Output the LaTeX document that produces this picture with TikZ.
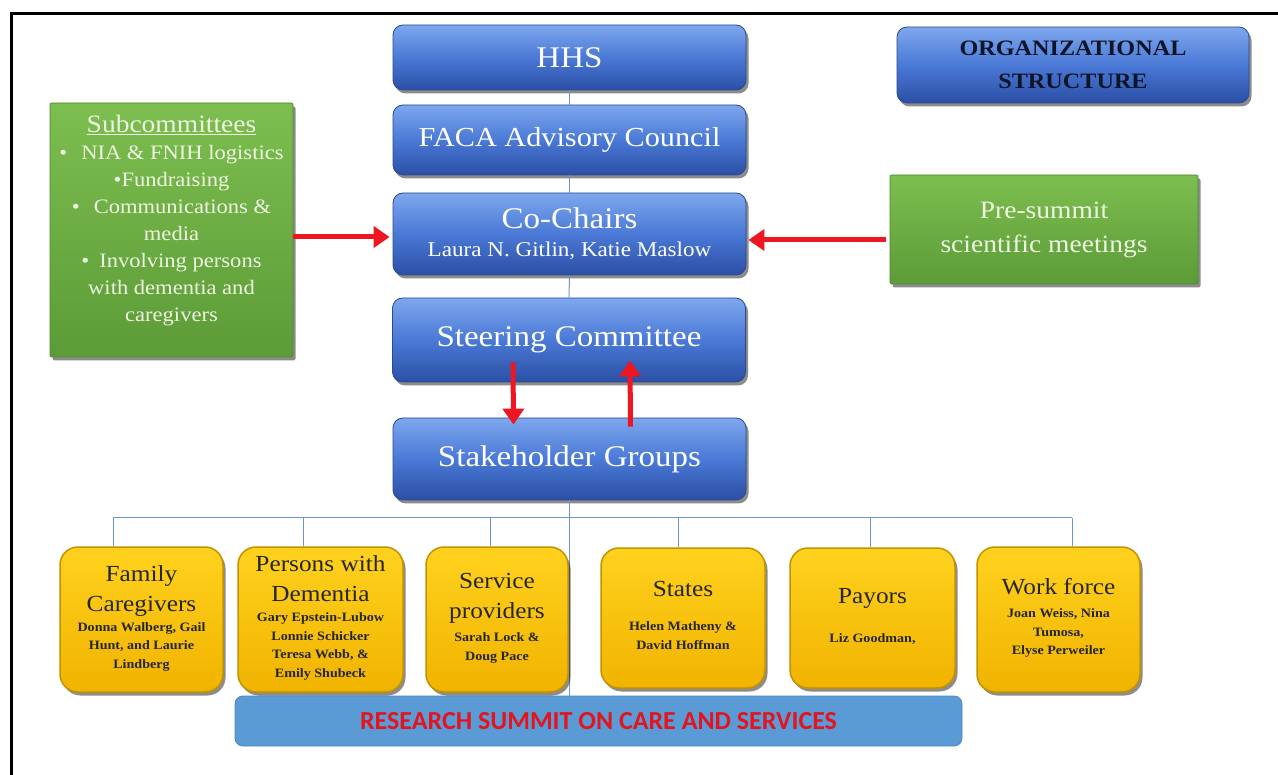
\documentclass[tikz,border=0pt]{standalone}
\usepackage{fontspec}
\setmainfont{Liberation Serif}[FakeStretch=1.1]
\newfontfamily\calib{Carlito}
\usetikzlibrary{shadows,arrows.meta,calc}
\definecolor{bluetop}{HTML}{7EA7EE}
\definecolor{bluemid}{HTML}{4A79D6}
\definecolor{bluebot}{HTML}{2B4FA5}
\definecolor{blueedge}{HTML}{2A4A90}
\definecolor{yeltop}{HTML}{FFD21E}
\definecolor{yelbot}{HTML}{F0B300}
\definecolor{yeledge}{HTML}{C29200}
\definecolor{grntop}{HTML}{7DBE50}
\definecolor{grnbot}{HTML}{5C9B37}
\definecolor{grnedge}{HTML}{4C8A2C}
\definecolor{grntext}{HTML}{EEF7E2}
\definecolor{connc}{HTML}{6E94C8}
\definecolor{arrred}{HTML}{EE1620}
\definecolor{summitfill}{HTML}{5B9BD5}
\definecolor{summitedge}{HTML}{4A86C0}
\definecolor{summittext}{HTML}{E3141E}
\definecolor{orgtext}{HTML}{0E1528}
\newcommand\bluefont{\fontsize{30}{30}\selectfont}
\newcommand\ybigfont{\fontsize{23}{30}\selectfont}
\newcommand\ynamefont{\fontsize{12.8}{18.5}\selectfont\bfseries}
\newcommand\ynames[1]{{\ynamefont\renewcommand\arraystretch{1}\begin{tabular}[t]{@{}c@{}}#1\end{tabular}}}
\tikzset{
  shade/.style={drop shadow={shadow xshift=2.5pt, shadow yshift=-3.5pt, opacity=.45, fill=black}},
  bluebox/.style={shade, rounded corners=10pt, top color=bluetop, bottom color=bluebot, middle color=bluemid,
    draw=blueedge, line width=.8pt, text=white, align=center, inner sep=0pt, minimum width=353pt, font=\bluefont},
  yelbox/.style={shade, rounded corners=18pt, top color=yeltop, bottom color=yelbot, draw=yeledge,
    line width=1.5pt, text=black!85, align=center, inner sep=0pt, font=\ybigfont},
  grnbox/.style={shade, rounded corners=2pt, top color=grntop, bottom color=grnbot, draw=grnedge,
    line width=.8pt, text=grntext, align=center, inner sep=0pt},
  conn/.style={draw=connc, line width=1pt},
  redarrow/.style={draw=arrred, line width=5pt, -{Triangle[length=16pt,width=21pt]}},
}
\begin{document}
\begin{tikzpicture}[x=1pt,y=-1pt]
\useasboundingbox (0,0) rectangle (1278,775);
\fill[white] (0,0) rectangle (1278,775);
\draw[line width=2.5pt] (11.5,775) -- (11.5,13.5) -- (1278,13.5);

% summit bar
\node[rounded corners=8pt, fill=summitfill, draw=summitedge, line width=.8pt, minimum width=727pt, minimum height=50pt,
  inner sep=0pt, font=\calib\bfseries\fontsize{26}{26}\selectfont, text=summittext] (summit) at (598.5,721)
  {RESEARCH SUMMIT ON CARE AND SERVICES};

% blue column
\node[bluebox, minimum height=65pt] (hhs) at (569.5,57.5) {HHS};
\node[bluebox, minimum height=70pt, font=\fontsize{27.5}{30}\selectfont] (faca) at (569.5,140) {FACA Advisory Council};
\node[bluebox, minimum height=82pt] (co) at (569.5,234) {Co-Chairs\\[-2pt]{\fontsize{21}{24}\selectfont Laura N. Gitlin, Katie Maslow}};
\node[bluebox, minimum height=84pt] (steer) at (569,340) {Steering Committee};
\node[bluebox, minimum height=82pt] (stake) at (569.5,459) {Stakeholder Groups};

\node[bluebox, minimum width=352pt, minimum height=76pt, text=orgtext, font=\fontsize{22}{33}\selectfont\bfseries] (org) at (1073,65) {ORGANIZATIONAL\\STRUCTURE};

% green boxes
\node[grnbox, minimum width=243pt, minimum height=254pt] (sub) at (171.5,230) {};
\node[text=grntext, align=center, inner sep=0pt, anchor=north, font=\fontsize{20.5}{27}\selectfont] (subtext) at (171.5,115)
  {{\fontsize{25}{28}\selectfont\underline{Subcommittees}}\\
   \textbullet\hspace{14pt}NIA \& FNIH logistics\\
   \textbullet Fundraising\\
   \textbullet\hspace{14pt}Communications \&\\
   media\\
   \textbullet\hspace{10pt}Involving persons\\
   with dementia and\\
   caregivers};
\node[grnbox, minimum width=308pt, minimum height=109pt, font=\fontsize{25}{34}\selectfont] (pre) at (1044,229.5) {Pre-summit\\scientific meetings};

% connectors in column
\draw[conn] (hhs.south) -- (faca.north);
\draw[conn] (faca.south) -- (co.north);
\draw[conn] (co.south) -- (steer.north);
\draw[conn] (stake.south) -- (stake.south |- summit.north);

% bus
\coordinate (b1) at (113,518);
\coordinate (b2) at (303,518);
\coordinate (b3) at (490,518);
\coordinate (b4) at (678,518);
\coordinate (b5) at (870,518);
\coordinate (b6) at (1072,518);
\draw[conn] (b1) -- (b6);

% yellow boxes
\node[yelbox, minimum width=163pt, minimum height=145pt] (fam) at (141.5,619.5)
  {Family\\Caregivers\\[-10pt]\ynames{Donna Walberg, Gail\\Hunt, and Laurie\\Lindberg}};
\node[yelbox, minimum width=165pt, minimum height=145pt] (pwd) at (320.5,619.5)
  {Persons with\\Dementia\\[-10pt]\ynames{Gary Epstein-Lubow\\Lonnie Schicker\\Teresa Webb, \&\\Emily Shubeck}};
\node[yelbox, minimum width=142pt, minimum height=145pt] (svc) at (497,619.5)
  {Service\\providers\\[-7pt]\ynames{Sarah Lock \&\\Doug Pace}};
\node[yelbox, minimum width=164pt, minimum height=140pt] (sta) at (683,618)
  {States\\[4pt]\ynames{Helen Matheny \&\\David Hoffman}};
\node[yelbox, minimum width=165pt, minimum height=140pt] (pay) at (872.5,618)
  {Payors\\[9pt]\ynames{Liz Goodman,}};
\node[yelbox, minimum width=163pt, minimum height=145pt] (wrk) at (1058.5,619.5)
  {Work force\\[-7pt]\ynames{Joan Weiss, Nina\\Tumosa,\\Elyse Perweiler}};

\draw[conn] (b1) -- (b1 |- fam.north);
\draw[conn] (b2) -- (b2 |- pwd.north);
\draw[conn] (b3) -- (b3 |- svc.north);
\draw[conn] (b4) -- (b4 |- sta.north);
\draw[conn] (b5) -- (b5 |- pay.north);
\draw[conn] (b6) -- (b6 |- wrk.north);

% red arrows
\draw[redarrow] (sub.east |- 0,237) -- ([xshift=-3pt]co.west |- 0,237);
\draw[redarrow] ([xshift=-4pt]pre.west |- 0,240) -- ([xshift=2pt]co.east |- 0,240);
\draw[redarrow] ([xshift=-56pt,yshift=20pt]steer.south) -- ([xshift=-56pt,yshift=-7pt]stake.north);
\draw[redarrow] ([xshift=61pt,yshift=-9pt]stake.north) -- ([xshift=61pt,yshift=22pt]steer.south);
\end{tikzpicture}
\end{document}
